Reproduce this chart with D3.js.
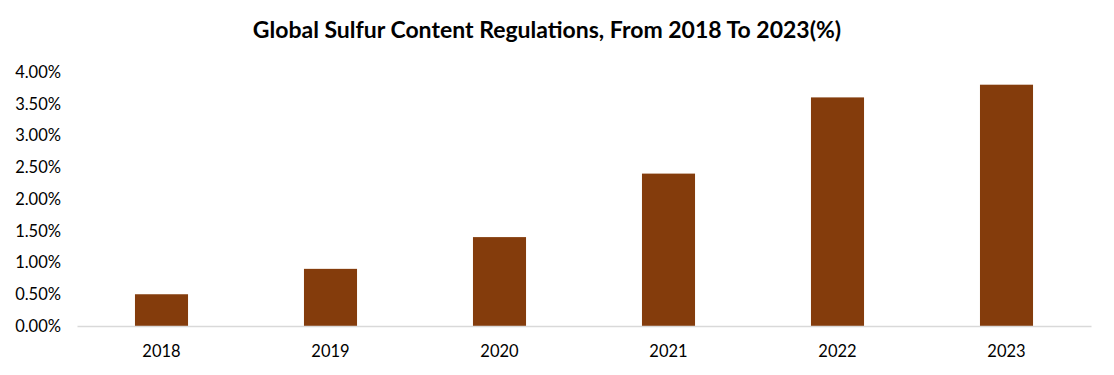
<!DOCTYPE html>
<html>
<head>
<meta charset="utf-8">
<script src="https://cdn.jsdelivr.net/npm/d3@7"></script>
<style>
  body { margin: 0; background: #fff; }
  text { font-family: Lato, "Open Sans", sans-serif; }
</style>
</head>
<body>
<div class="chart"></div>
<script>
// Global sulfur content regulations 2018-2023
const years = ['2018', '2019', '2020', '2021', '2022', '2023'];
const sulfur = [0.5, 0.9, 1.4, 2.4, 3.6, 3.8];
const yTicks = [0, 0.5, 1, 1.5, 2, 2.5, 3, 3.5, 4];

const WIDTH = 1114;
const HEIGHT = 375;
const MARGIN = { TOP: 72, BOTTOM: 49, LEFT: 77, RIGHT: 23 };

const width = WIDTH - MARGIN.LEFT - MARGIN.RIGHT;
const height = HEIGHT - MARGIN.TOP - MARGIN.BOTTOM;

const svg = d3.select('.chart')
  .append('svg')
    .attr('width', WIDTH)
    .attr('height', HEIGHT);

svg.append('text')
  .attr('x', 547)
  .attr('y', 38)
  .attr('text-anchor', 'middle')
  .style('font-size', '23px')
  .style('font-weight', 'bold')
  .style('fill', '#000')
  .text('Global Sulfur Content Regulations, From 2018 To 2023(%)');

const g = svg.append('g')
  .attr('transform', `translate(${MARGIN.LEFT}, ${MARGIN.TOP})`);

const xscale = d3.scaleBand()
  .domain(years)
  .range([0, width])
  .paddingInner(0.686)
  .paddingOuter(0.343);

const yscale = d3.scaleLinear()
  .domain([0, 4])
  .range([height, 0]);

// barras
g.selectAll('rect.bar')
  .data(sulfur)
  .enter().append('rect')
    .attr('class', 'bar')
    .attr('x', (d, i) => xscale(years[i]))
    .attr('y', d => yscale(d))
    .attr('width', xscale.bandwidth())
    .attr('height', d => height - yscale(d))
    .attr('fill', '#843C0C');

// eje x
const xAxis = g.append('g')
  .attr('transform', `translate(0, ${height})`)
  .call(d3.axisBottom(xscale).tickSize(0).tickPadding(19));
xAxis.select('.domain').attr('stroke', '#d9d9d9').attr('stroke-width', 1.3);
xAxis.selectAll('text')
  .style('font-size', '16.5px')
  .style('fill', '#000')
  .style('font-family', 'Lato, "Open Sans", sans-serif');

// eje y
const yAxis = g.append('g')
  .call(d3.axisLeft(yscale).tickValues(yTicks).tickSize(0).tickPadding(16)
    .tickFormat(d => d3.format('.2f')(d) + '%'));
yAxis.select('.domain').remove();
yAxis.selectAll('text')
  .style('font-size', '16.5px')
  .style('fill', '#000')
  .style('font-family', 'Lato, "Open Sans", sans-serif');
</script>
</body>
</html>
